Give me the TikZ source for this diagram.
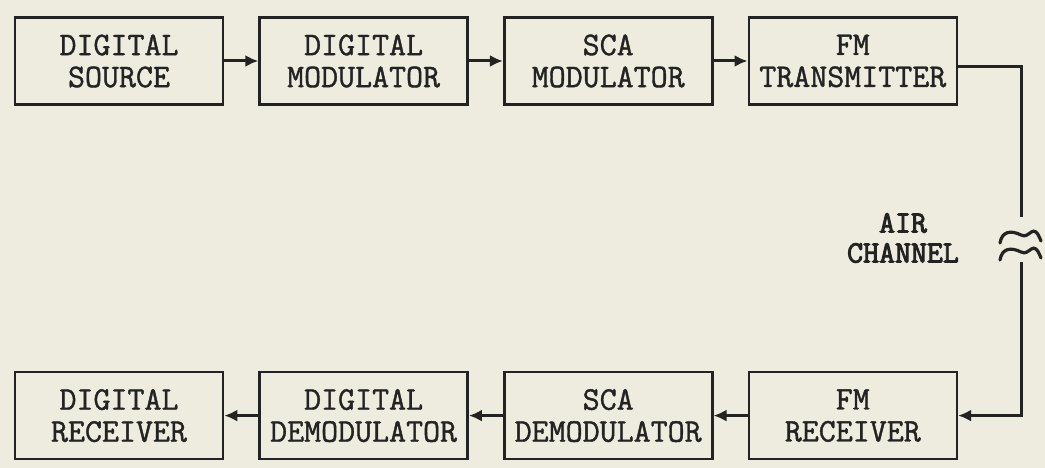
\documentclass[tikz,border=0pt]{standalone}
\usepackage{fontspec}
\newfontfamily\boxfont[FakeBold=1.2]{Latin Modern Mono}
\newfontfamily\airfont[FakeBold=3]{Latin Modern Mono}
\usepackage{tikz}
\usetikzlibrary{positioning,arrows.meta}
\definecolor{paper}{RGB}{238,236,222}
\definecolor{ink}{RGB}{35,35,35}

\begin{document}
\begin{tikzpicture}[
  x=1pt,y=-1pt,
  node distance=34pt,
  every node/.style={text=ink},
  block/.style={draw=ink,line width=2.6pt,align=center,minimum width=208pt,minimum height=87pt,inner sep=0pt,font=\boxfont\fontsize{33}{32}\selectfont},
  link/.style={draw=ink,line width=3pt,-{Latex[length=13pt,width=12pt]}},
  wire/.style={draw=ink,line width=3pt},
  wave/.style={draw=ink,line width=3.2pt,line cap=round}
]
\fill[paper] (0,0) rectangle (1045,468);
\useasboundingbox (0,0) rectangle (1045,468);

% transmitting chain
\node[block] (src) at (119,61) {DIGITAL\\SOURCE};
\node[block,right=of src] (dmod) {DIGITAL\\MODULATOR};
\node[block,right=of dmod] (smod) {SCA\\MODULATOR};
\node[block,right=of smod] (fmtx) {FM\\TRANSMITTER};

% receiving chain
\node[block,below=265pt of src] (drcv) {DIGITAL\\RECEIVER};
\node[block,right=of drcv] (ddem) {DIGITAL\\DEMODULATOR};
\node[block,right=of ddem] (sdem) {SCA\\DEMODULATOR};
\node[block,right=of sdem] (fmrx) {FM\\RECEIVER};

\draw[link] (src) -- (dmod);
\draw[link] (dmod) -- (smod);
\draw[link] (smod) -- (fmtx);
\draw[link] (fmrx) -- (sdem);
\draw[link] (sdem) -- (ddem);
\draw[link] (ddem) -- (drcv);

% air channel with break
\coordinate (brktop) at (1021,217);
\coordinate (brkbot) at (1021,262);
\draw[wire] ([yshift=-6pt]fmtx.east) -| (brktop);
\draw[link] (brkbot) |- (fmrx.east);
\foreach \wy in {235,252}
  \draw[wave,shift={(1021,\wy)}] (-21,8) .. controls (-19,-4) and (-10,-5) .. (0,0) .. controls (9,5) and (12,-15) .. (20,6);
\node[font=\airfont\fontsize{31}{30}\selectfont,align=center] (air) at (903,238) {AIR\\CHANNEL};
\end{tikzpicture}
\end{document}
